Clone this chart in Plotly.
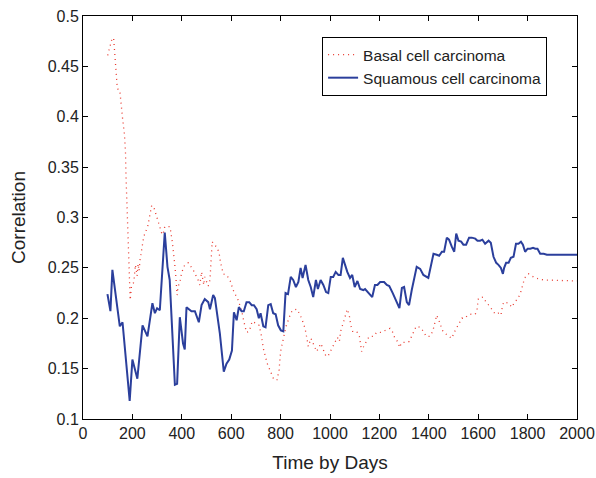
import plotly.graph_objects as go

# Squamous cell carcinoma (solid blue)
scc_days = [99, 111, 119, 149, 160, 189, 200, 220, 241, 261, 281, 291, 300, 311, 331, 342, 351, 372, 381, 392,
            405, 412, 419, 439, 453, 469, 480, 493, 507, 514, 527, 534, 554, 570, 581, 592, 603, 611, 622, 631,
            642, 651, 662, 673, 683, 692, 703, 712, 719, 730, 739, 750, 760, 770, 780, 790, 801, 811, 820, 830,
            841, 851, 862, 872, 881, 889, 901, 912, 922, 932, 943, 951, 962, 973, 984, 993, 1003, 1013, 1023, 1034,
            1043, 1052, 1061, 1070, 1081, 1090, 1100, 1111, 1122, 1135, 1142, 1155, 1171, 1182, 1192, 1203, 1219, 1230, 1240, 1254,
            1266, 1274, 1281, 1291, 1300, 1311, 1320, 1331, 1351, 1365, 1378, 1398, 1408, 1419, 1432, 1442, 1453, 1462, 1473, 1482,
            1493, 1503, 1511, 1520, 1531, 1540, 1551, 1563, 1574, 1588, 1597, 1608, 1617, 1628, 1642, 1651, 1662, 1673, 1682, 1692,
            1700, 1705, 1713, 1723, 1732, 1743, 1753, 1763, 1773, 1781, 1790, 1800, 1811, 1822, 1831, 1840, 1851, 1865, 1878, 2000]
scc_vals = [0.224, 0.207, 0.248, 0.192, 0.196, 0.118, 0.159, 0.140, 0.193, 0.182, 0.215, 0.205, 0.210, 0.208, 0.285, 0.251, 0.238, 0.134, 0.135, 0.201,
            0.175, 0.169, 0.211, 0.207, 0.207, 0.196, 0.213, 0.219, 0.216, 0.209, 0.223, 0.220, 0.185, 0.147, 0.155, 0.159, 0.168, 0.206, 0.198, 0.211,
            0.207, 0.207, 0.216, 0.216, 0.213, 0.213, 0.209, 0.200, 0.205, 0.192, 0.191, 0.213, 0.214, 0.205, 0.204, 0.193, 0.188, 0.187, 0.225, 0.224,
            0.241, 0.238, 0.231, 0.236, 0.250, 0.240, 0.253, 0.238, 0.231, 0.221, 0.238, 0.229, 0.238, 0.233, 0.226, 0.225, 0.241, 0.241, 0.246, 0.243,
            0.243, 0.260, 0.253, 0.246, 0.240, 0.243, 0.231, 0.237, 0.229, 0.228, 0.229, 0.225, 0.221, 0.233, 0.233, 0.236, 0.236, 0.233, 0.232, 0.225,
            0.218, 0.214, 0.210, 0.230, 0.231, 0.216, 0.213, 0.228, 0.251, 0.249, 0.243, 0.240, 0.253, 0.264, 0.263, 0.262, 0.266, 0.266, 0.280, 0.278,
            0.271, 0.266, 0.284, 0.277, 0.276, 0.273, 0.273, 0.280, 0.280, 0.279, 0.277, 0.277, 0.278, 0.274, 0.277, 0.275, 0.261, 0.255, 0.253, 0.250,
            0.244, 0.250, 0.255, 0.255, 0.260, 0.261, 0.274, 0.274, 0.276, 0.273, 0.266, 0.269, 0.269, 0.270, 0.269, 0.269, 0.264, 0.264, 0.263, 0.263]

# Basal cell carcinoma (dotted red)
bcc_days = [100, 108, 118, 124, 131, 135, 139, 149, 154, 160, 168, 172, 174, 177, 178, 180, 183, 185, 189, 191,
            196, 206, 212, 219, 223, 227, 231, 237, 246, 262, 270, 278, 287, 295, 307, 318, 324, 331, 351, 354,
            362, 368, 372, 376, 380, 381, 385, 392, 399, 412, 426, 446, 466, 473, 480, 489, 493, 507, 514, 518,
            523, 530, 541, 551, 557, 568, 581, 595, 608, 628, 642, 651, 662, 673, 679, 685, 700, 713, 723, 730,
            746, 764, 773, 786, 794, 800, 811, 822, 831, 841, 849, 867, 885, 899, 908, 912, 923, 939, 946, 963,
            984, 993, 1013, 1030, 1038, 1043, 1058, 1070, 1078, 1084, 1092, 1108, 1119, 1128, 1138, 1149, 1159, 1176, 1189, 1206,
            1223, 1243, 1254, 1263, 1277, 1281, 1291, 1311, 1321, 1331, 1349, 1365, 1378, 1389, 1405, 1416, 1422, 1432, 1442, 1457,
            1476, 1493, 1503, 1514, 1524, 1534, 1547, 1557, 1572, 1588, 1595, 1601, 1619, 1632, 1646, 1659, 1669, 1682, 1692, 1696,
            1703, 1723, 1736, 1747, 1759, 1770, 1777, 1781, 1788, 1804, 1824, 1844, 1867, 2000]
bcc_vals = [0.461, 0.470, 0.478, 0.478, 0.456, 0.439, 0.428, 0.426, 0.416, 0.399, 0.382, 0.365, 0.342, 0.320, 0.309, 0.291, 0.274, 0.252, 0.235, 0.218,
            0.231, 0.236, 0.253, 0.242, 0.254, 0.247, 0.258, 0.269, 0.281, 0.291, 0.301, 0.312, 0.310, 0.304, 0.293, 0.285, 0.283, 0.291, 0.291, 0.288,
            0.275, 0.264, 0.252, 0.241, 0.229, 0.223, 0.232, 0.235, 0.245, 0.253, 0.255, 0.248, 0.238, 0.233, 0.246, 0.233, 0.241, 0.232, 0.238, 0.261,
            0.276, 0.273, 0.271, 0.265, 0.255, 0.244, 0.243, 0.238, 0.228, 0.218, 0.208, 0.197, 0.186, 0.187, 0.192, 0.197, 0.195, 0.193, 0.182, 0.170,
            0.155, 0.144, 0.139, 0.139, 0.149, 0.167, 0.180, 0.192, 0.198, 0.205, 0.208, 0.209, 0.200, 0.190, 0.178, 0.172, 0.180, 0.172, 0.167, 0.175,
            0.162, 0.163, 0.172, 0.181, 0.177, 0.187, 0.199, 0.209, 0.203, 0.193, 0.187, 0.187, 0.182, 0.167, 0.173, 0.178, 0.182, 0.182, 0.186, 0.186,
            0.188, 0.190, 0.186, 0.180, 0.176, 0.171, 0.176, 0.176, 0.177, 0.182, 0.192, 0.191, 0.187, 0.182, 0.182, 0.187, 0.193, 0.203, 0.197, 0.187,
            0.183, 0.180, 0.186, 0.191, 0.195, 0.200, 0.200, 0.203, 0.204, 0.204, 0.208, 0.220, 0.221, 0.216, 0.212, 0.208, 0.204, 0.205, 0.203, 0.209,
            0.216, 0.215, 0.211, 0.216, 0.219, 0.224, 0.230, 0.235, 0.240, 0.244, 0.241, 0.239, 0.238, 0.237]

x_ticks = [0, 200, 400, 600, 800, 1000, 1200, 1400, 1600, 1800, 2000]
y_ticks = [0.1, 0.15, 0.2, 0.25, 0.3, 0.35, 0.4, 0.45, 0.5]
y_tick_labels = ["0.1", "0.15", "0.2", "0.25", "0.3", "0.35", "0.4", "0.45", "0.5"]

FONT = "Liberation Sans, Arial, sans-serif"

fig = go.Figure()
fig.add_trace(go.Scatter(x=bcc_days, y=bcc_vals, mode="lines", name="Basal cell carcinoma",
                         line=dict(color="#e8392e", width=1.3, dash="1px,4px")))
fig.add_trace(go.Scatter(x=scc_days, y=scc_vals, mode="lines", name="Squamous cell carcinoma",
                         line=dict(color="#2b3f9c", width=2)))

axis_common = dict(showline=True, linecolor="black", linewidth=1, mirror="ticks", ticks="inside",
                   ticklen=5, tickcolor="black", showgrid=False, zeroline=False, automargin=False,
                   tickfont=dict(family=FONT, size=16, color="#222"))

fig.update_layout(
    width=596, height=478,
    margin=dict(l=83, r=19, t=16, b=59),
    paper_bgcolor="white", plot_bgcolor="white",
    font=dict(family=FONT, color="#222"),
    xaxis=dict(range=[0, 2000], tickvals=x_ticks,
               title=dict(text="Time by Days", font=dict(family=FONT, size=19), standoff=14),
               **axis_common),
    yaxis=dict(range=[0.1, 0.5], tickvals=y_ticks, ticktext=y_tick_labels,
               title=dict(text="Correlation", font=dict(family=FONT, size=19), standoff=17),
               **axis_common),
    legend=dict(x=0.484, y=0.948, xanchor="left", yanchor="top", bordercolor="black", borderwidth=1,
                bgcolor="white", font=dict(family=FONT, size=15.5, color="#222"),
                tracegroupgap=0, itemwidth=30, entrywidth=234),
    showlegend=True,
)

fig.write_html("out.html", config={"displayModeBar": False},
               post_script="document.body.style.margin='0px';document.body.style.padding='0px';")
